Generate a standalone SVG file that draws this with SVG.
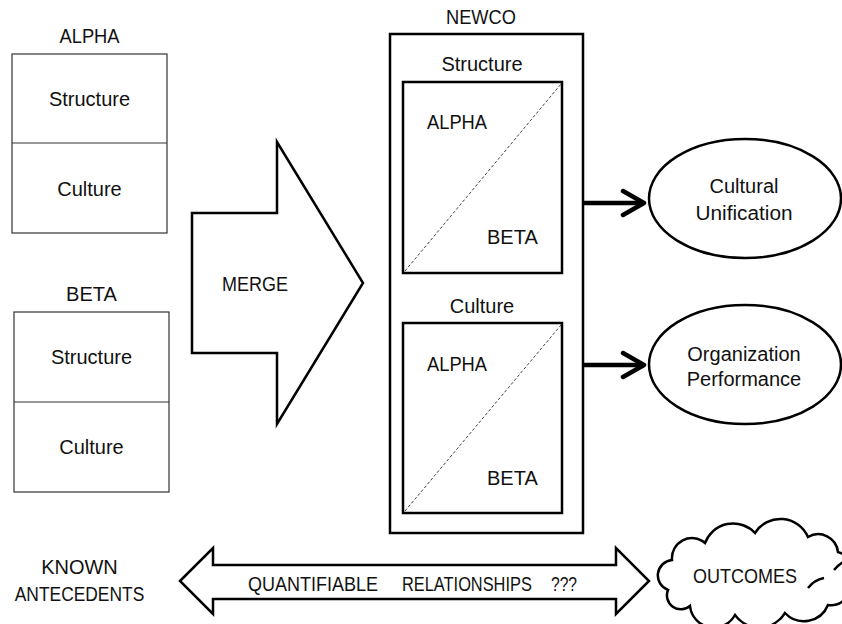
<svg xmlns="http://www.w3.org/2000/svg" width="842" height="624" viewBox="0 0 842 624">
<defs>
<style>
text{font-family:"Liberation Sans",Arial,sans-serif;font-size:20px;fill:#111;}
.c{text-anchor:middle;}
.thin{fill:#fff;stroke:#333;stroke-width:1.2;}
.bold{fill:#fff;stroke:#000;stroke-width:2.5;}
.diag{stroke:#444;stroke-width:1;stroke-dasharray:3,2;fill:none;}
.conn{stroke:#000;stroke-width:4.5;fill:none;}
</style>
<marker id="chev" viewBox="0 0 30 30" refX="24" refY="15" markerWidth="30" markerHeight="30" markerUnits="userSpaceOnUse" orient="auto">
<path d="M3,3 L24,15 L3,27" fill="none" stroke="#000" stroke-width="4.5" stroke-linecap="round" stroke-linejoin="round"/>
</marker>
</defs>
<rect width="842" height="624" fill="#fff"/>

<g id="alpha">
<text class="c" x="89.5" y="43" textLength="60" lengthAdjust="spacingAndGlyphs">ALPHA</text>
<rect class="thin" x="12" y="54" width="155" height="179"/>
<line x1="12" y1="143" x2="167" y2="143" stroke="#333" stroke-width="1.2"/>
<text class="c" x="89.5" y="106">Structure</text>
<text class="c" x="89.5" y="196">Culture</text>
</g>

<g id="beta">
<text class="c" x="91.5" y="301">BETA</text>
<rect class="thin" x="14" y="312" width="155" height="180"/>
<line x1="14" y1="402" x2="169" y2="402" stroke="#333" stroke-width="1.2"/>
<text class="c" x="91.5" y="364">Structure</text>
<text class="c" x="91.5" y="454">Culture</text>
</g>

<g id="merge">
<polygon class="bold" points="192,213 277,213 277,142 363,283 277,424 277,353 192,353"/>
<text class="c" x="255" y="291" textLength="66" lengthAdjust="spacingAndGlyphs">MERGE</text>
</g>

<g id="newco">
<text class="c" x="481" y="24" textLength="70" lengthAdjust="spacingAndGlyphs">NEWCO</text>
<rect class="bold" x="390" y="34" width="193" height="499"/>
<text class="c" x="482" y="71">Structure</text>
<rect class="bold" x="403" y="82" width="159" height="191"/>
<line class="diag" x1="405" y1="271" x2="561" y2="84"/>
<text x="427" y="129" textLength="60" lengthAdjust="spacingAndGlyphs">ALPHA</text>
<text x="487" y="244">BETA</text>
<text class="c" x="482" y="313">Culture</text>
<rect class="bold" x="403" y="323" width="159" height="190"/>
<line class="diag" x1="405" y1="511" x2="561" y2="325"/>
<text x="427" y="371" textLength="60" lengthAdjust="spacingAndGlyphs">ALPHA</text>
<text x="487" y="485">BETA</text>
</g>

<g id="cultural-unification">
<ellipse class="bold" cx="745" cy="198.5" rx="96" ry="59.5"/>
<text class="c" x="744" y="193">Cultural</text>
<text class="c" x="744" y="220" textLength="97" lengthAdjust="spacingAndGlyphs">Unification</text>
</g>

<g id="organization-performance">
<ellipse class="bold" cx="745" cy="364.5" rx="96" ry="59.5"/>
<text class="c" x="744" y="361">Organization</text>
<text class="c" x="744" y="386">Performance</text>
</g>

<g id="known-antecedents">
<text class="c" x="79.5" y="574">KNOWN</text>
<text class="c" transform="translate(79.5,601) scale(0.87,1)">ANTECEDENTS</text>
</g>

<g id="relationships">
<polygon class="bold" points="180,581 213,548 213,565 616,565 616,548 649,581 616,614 616,599 213,599 213,614"/>
<text transform="translate(248,591) scale(0.9,1)">QUANTIFIABLE</text>
<text transform="translate(402,591) scale(0.82,1)">RELATIONSHIPS</text>
<text transform="translate(551,591) scale(0.78,1)">???</text>
</g>

<g id="outcomes">
<path class="bold" d="M672,560 A20,20 0 0 1 705,543 A30,30 0 0 1 755,533 A30,30 0 0 1 808,537 A20,20 0 0 1 838,552 A20,20 0 0 1 850,580 A20,20 0 0 1 828,605 A26,26 0 0 1 785,613 A30,30 0 0 1 735,615 A24,24 0 0 1 690,606 A14,14 0 0 1 668,590 A15.5,15.5 0 0 1 672,560 Z"/>
<path d="M808,588 Q814,580 824,578" fill="none" stroke="#000" stroke-width="2.5"/>
<path d="M834,570 Q838,565 843,562" fill="none" stroke="#000" stroke-width="2.5"/>
<text class="c" x="745" y="583" textLength="104" lengthAdjust="spacingAndGlyphs">OUTCOMES</text>
</g>

<g id="connectors">
<line class="conn" x1="583" y1="203" x2="644" y2="203" marker-end="url(#chev)"/>
<line class="conn" x1="583" y1="365" x2="644" y2="365" marker-end="url(#chev)"/>
</g>
</svg>
